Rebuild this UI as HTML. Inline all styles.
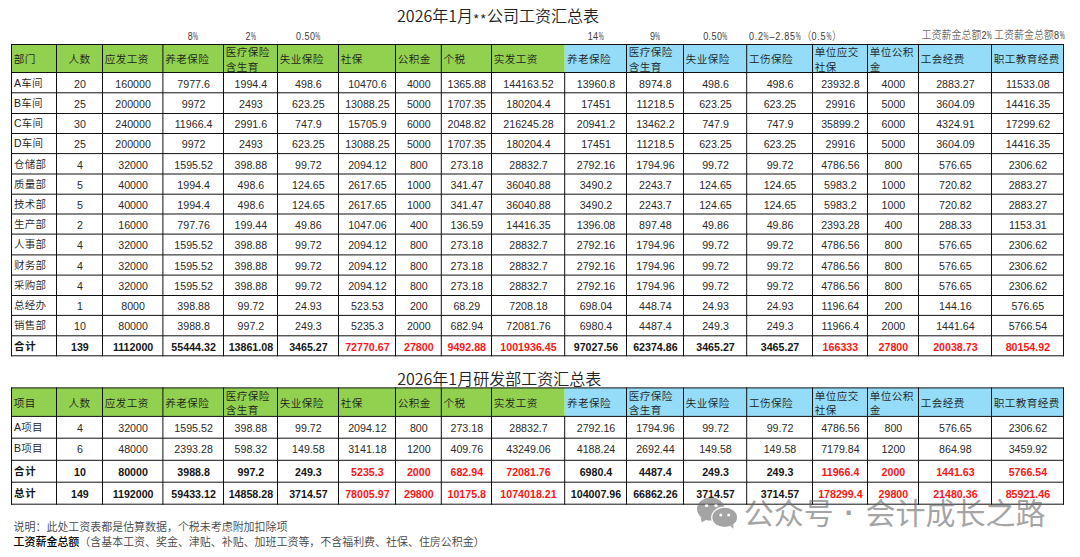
<!DOCTYPE html>
<html lang="zh-CN"><head><meta charset="utf-8"><title>工资汇总表</title>
<style>
html,body{margin:0;padding:0;background:#fff}
body{width:1080px;height:557px;position:relative;overflow:hidden;font-family:"Liberation Sans","Noto Sans CJK SC",sans-serif;color:#222}
div{position:absolute;box-sizing:border-box;white-space:nowrap}
#grid{position:absolute;left:0;top:0}
.h{font-size:10.6px;letter-spacing:.4px;line-height:14.5px;padding-left:1.8px;color:#1c1c1c;font-weight:350}
.h.c{text-align:center;padding-left:0}
.d{font-size:10.67px;text-align:center;color:#2a2a2a;height:20px;line-height:20px}
.d.n{text-align:left;padding-left:1.5px;font-size:10.5px;letter-spacing:.25px;font-weight:350;color:#1c1c1c}
.d.b{font-weight:bold;color:#161616}
.d.n.b{letter-spacing:.8px}
.d.r{color:#ff1414}
.t{font-family:"Noto Sans CJK SC","Liberation Sans",sans-serif;font-size:16px;left:0;width:996px;text-align:center;color:#222;line-height:20px;font-weight:350}
.t u{text-decoration:none;position:relative;top:2.5px;font-size:14px;letter-spacing:.5px}
.p{top:30px;font-size:10px;letter-spacing:.5px;line-height:14px;text-align:center;color:#3a3a3a;transform:scaleX(.9)}
.p b{font-weight:300;color:#333;font-size:11.1px;letter-spacing:0}
.p i{font-style:normal;display:inline-block;transform:scaleX(.62);transform-origin:0 50%;margin-right:-3.2px}
.note{left:13.6px;font-size:10.96px;line-height:14px;color:#444;font-weight:350}
.wm{color:rgba(105,105,105,.6);font-size:30px;line-height:34px;top:496.5px}
</style></head><body>
<svg id="grid" width="1080" height="557" viewBox="0 0 1080 557">
<rect x="11.5" y="44.5" width="553.2" height="28" fill="#92d050"/>
<rect x="564.7" y="44.5" width="498.8" height="28" fill="#94dcf8"/>
<path d="M11 44.5H1064M11 72.5H1064M11 92.8H1064M11 113.5H1064M11 133.5H1064M11 153.6H1064M11 174H1064M11 194.2H1064M11 214H1064M11 234.1H1064M11 254.9H1064M11 275.1H1064M11 295.5H1064M11 315.4H1064M11 335.8H1064M11 355.8H1064M11.5 44V356.3M56.5 44V356.3M102.5 44V356.3M162.9 44V356.3M223.5 44V356.3M277.5 44V356.3M338.5 44V356.3M395.5 44V356.3M441.3 44V356.3M491.5 44V356.3M564.7 72V356.3M626.5 44V356.3M683.5 44V356.3M746.7 44V356.3M812.5 44V356.3M867.5 44V356.3M918.5 44V356.3M991.5 44V356.3M1063.5 44V356.3" fill="none" stroke="#111" stroke-width="1"/>
<rect x="11.5" y="387.9" width="553.2" height="28.5" fill="#92d050"/>
<rect x="564.7" y="387.9" width="498.8" height="28.5" fill="#94dcf8"/>
<path d="M11 387.9H1064M11 416.4H1064M11 438.2H1064M11 460.3H1064M11 482.2H1064M11 504.2H1064M11.5 387.4V504.7M56.5 387.4V504.7M102.5 387.4V504.7M162.9 387.4V504.7M223.5 387.4V504.7M277.5 387.4V504.7M338.5 387.4V504.7M395.5 387.4V504.7M441.3 387.4V504.7M491.5 387.4V504.7M564.7 415.9V504.7M626.5 387.4V504.7M683.5 387.4V504.7M746.7 387.4V504.7M812.5 387.4V504.7M867.5 387.4V504.7M918.5 387.4V504.7M991.5 387.4V504.7M1063.5 387.4V504.7" fill="none" stroke="#111" stroke-width="1"/>
</svg>
<div class="t" style="top:5px">2026年1月<u>**</u>公司工资汇总表</div>
<div class="t" style="top:368px;left:1.2px">2026年1月研发部工资汇总表</div>
<div class="p" style="left:163.4px;width:60.6px">8<i>%</i></div>
<div class="p" style="left:224px;width:54px">2<i>%</i></div>
<div class="p" style="left:278px;width:61px">0.50<i>%</i></div>
<div class="p" style="left:565.2px;width:61.8px">14<i>%</i></div>
<div class="p" style="left:627px;width:57px">9<i>%</i></div>
<div class="p" style="left:684px;width:63.2px">0.50<i>%</i></div>
<div class="p" style="left:749px;top:29px;width:135px;text-align:left;transform-origin:0 50%;letter-spacing:.8px">0.2<i>%</i>–2.85<i>%</i><b>（</b>0.5<i>%</i><b>）</b></div>
<div class="p" style="left:900px;top:28px;width:92.5px;text-align:right;transform-origin:100% 50%"><b>工资薪金总额</b>2<i>%</i></div>
<div class="p" style="left:994px;top:28px;width:86px;text-align:left;transform-origin:0 50%"><b>工资薪金总额</b>8<i>%</i></div>
<div class="h" style="left:12px;top:52px;width:44px;line-height:14.6px">部门</div>
<div class="h c" style="left:57px;top:52px;width:45px;line-height:14.6px">人数</div>
<div class="h" style="left:103px;top:52px;width:59.4px;line-height:14.6px">应发工资</div>
<div class="h" style="left:163.4px;top:52px;width:59.6px;line-height:14.6px">养老保险</div>
<div class="h" style="left:224px;top:45px;width:53px;line-height:14.6px">医疗保险<br>含生育</div>
<div class="h" style="left:278px;top:52px;width:60px;line-height:14.6px">失业保险</div>
<div class="h" style="left:339px;top:52px;width:56px;line-height:14.6px">社保</div>
<div class="h" style="left:396px;top:52px;width:44.8px;line-height:14.6px">公积金</div>
<div class="h" style="left:441.8px;top:52px;width:49.2px;line-height:14.6px">个税</div>
<div class="h" style="left:492px;top:52px;width:72.2px;line-height:14.6px">实发工资</div>
<div class="h" style="left:565.2px;top:52px;width:60.8px;line-height:14.6px">养老保险</div>
<div class="h" style="left:627px;top:45px;width:56px;line-height:14.6px">医疗保险<br>含生育</div>
<div class="h" style="left:684px;top:52px;width:62.2px;line-height:14.6px">失业保险</div>
<div class="h" style="left:747.2px;top:52px;width:64.8px;line-height:14.6px">工伤保险</div>
<div class="h" style="left:813px;top:45px;width:54px;line-height:14.6px">单位应交<br>社保</div>
<div class="h" style="left:868px;top:45px;width:50px;line-height:14.6px">单位公积<br>金</div>
<div class="h" style="left:919px;top:52px;width:72px;line-height:14.6px">工会经费</div>
<div class="h" style="left:992px;top:52px;width:71px;line-height:14.6px">职工教育经费</div>
<div class="d n" style="left:12.4px;top:73px;width:44px">A车间</div>
<div class="d" style="left:57.4px;top:74px;width:45px">20</div>
<div class="d" style="left:103.4px;top:74px;width:59.4px">160000</div>
<div class="d" style="left:163.8px;top:74px;width:59.6px">7977.6</div>
<div class="d" style="left:224.4px;top:74px;width:53px">1994.4</div>
<div class="d" style="left:278.4px;top:74px;width:60px">498.6</div>
<div class="d" style="left:339.4px;top:74px;width:56px">10470.6</div>
<div class="d" style="left:396.4px;top:74px;width:44.8px">4000</div>
<div class="d" style="left:442.2px;top:74px;width:49.2px">1365.88</div>
<div class="d" style="left:492.4px;top:74px;width:72.2px">144163.52</div>
<div class="d" style="left:565.6px;top:74px;width:60.8px">13960.8</div>
<div class="d" style="left:627.4px;top:74px;width:56px">8974.8</div>
<div class="d" style="left:684.4px;top:74px;width:62.2px">498.6</div>
<div class="d" style="left:747.6px;top:74px;width:64.8px">498.6</div>
<div class="d" style="left:813.4px;top:74px;width:54px">23932.8</div>
<div class="d" style="left:868.4px;top:74px;width:50px">4000</div>
<div class="d" style="left:919.4px;top:74px;width:72px">2883.27</div>
<div class="d" style="left:992.4px;top:74px;width:71px">11533.08</div>
<div class="d n" style="left:12.4px;top:93px;width:44px">B车间</div>
<div class="d" style="left:57.4px;top:94px;width:45px">25</div>
<div class="d" style="left:103.4px;top:94px;width:59.4px">200000</div>
<div class="d" style="left:163.8px;top:94px;width:59.6px">9972</div>
<div class="d" style="left:224.4px;top:94px;width:53px">2493</div>
<div class="d" style="left:278.4px;top:94px;width:60px">623.25</div>
<div class="d" style="left:339.4px;top:94px;width:56px">13088.25</div>
<div class="d" style="left:396.4px;top:94px;width:44.8px">5000</div>
<div class="d" style="left:442.2px;top:94px;width:49.2px">1707.35</div>
<div class="d" style="left:492.4px;top:94px;width:72.2px">180204.4</div>
<div class="d" style="left:565.6px;top:94px;width:60.8px">17451</div>
<div class="d" style="left:627.4px;top:94px;width:56px">11218.5</div>
<div class="d" style="left:684.4px;top:94px;width:62.2px">623.25</div>
<div class="d" style="left:747.6px;top:94px;width:64.8px">623.25</div>
<div class="d" style="left:813.4px;top:94px;width:54px">29916</div>
<div class="d" style="left:868.4px;top:94px;width:50px">5000</div>
<div class="d" style="left:919.4px;top:94px;width:72px">3604.09</div>
<div class="d" style="left:992.4px;top:94px;width:71px">14416.35</div>
<div class="d n" style="left:12.4px;top:113px;width:44px">C车间</div>
<div class="d" style="left:57.4px;top:114px;width:45px">30</div>
<div class="d" style="left:103.4px;top:114px;width:59.4px">240000</div>
<div class="d" style="left:163.8px;top:114px;width:59.6px">11966.4</div>
<div class="d" style="left:224.4px;top:114px;width:53px">2991.6</div>
<div class="d" style="left:278.4px;top:114px;width:60px">747.9</div>
<div class="d" style="left:339.4px;top:114px;width:56px">15705.9</div>
<div class="d" style="left:396.4px;top:114px;width:44.8px">6000</div>
<div class="d" style="left:442.2px;top:114px;width:49.2px">2048.82</div>
<div class="d" style="left:492.4px;top:114px;width:72.2px">216245.28</div>
<div class="d" style="left:565.6px;top:114px;width:60.8px">20941.2</div>
<div class="d" style="left:627.4px;top:114px;width:56px">13462.2</div>
<div class="d" style="left:684.4px;top:114px;width:62.2px">747.9</div>
<div class="d" style="left:747.6px;top:114px;width:64.8px">747.9</div>
<div class="d" style="left:813.4px;top:114px;width:54px">35899.2</div>
<div class="d" style="left:868.4px;top:114px;width:50px">6000</div>
<div class="d" style="left:919.4px;top:114px;width:72px">4324.91</div>
<div class="d" style="left:992.4px;top:114px;width:71px">17299.62</div>
<div class="d n" style="left:12.4px;top:133px;width:44px">D车间</div>
<div class="d" style="left:57.4px;top:134px;width:45px">25</div>
<div class="d" style="left:103.4px;top:134px;width:59.4px">200000</div>
<div class="d" style="left:163.8px;top:134px;width:59.6px">9972</div>
<div class="d" style="left:224.4px;top:134px;width:53px">2493</div>
<div class="d" style="left:278.4px;top:134px;width:60px">623.25</div>
<div class="d" style="left:339.4px;top:134px;width:56px">13088.25</div>
<div class="d" style="left:396.4px;top:134px;width:44.8px">5000</div>
<div class="d" style="left:442.2px;top:134px;width:49.2px">1707.35</div>
<div class="d" style="left:492.4px;top:134px;width:72.2px">180204.4</div>
<div class="d" style="left:565.6px;top:134px;width:60.8px">17451</div>
<div class="d" style="left:627.4px;top:134px;width:56px">11218.5</div>
<div class="d" style="left:684.4px;top:134px;width:62.2px">623.25</div>
<div class="d" style="left:747.6px;top:134px;width:64.8px">623.25</div>
<div class="d" style="left:813.4px;top:134px;width:54px">29916</div>
<div class="d" style="left:868.4px;top:134px;width:50px">5000</div>
<div class="d" style="left:919.4px;top:134px;width:72px">3604.09</div>
<div class="d" style="left:992.4px;top:134px;width:71px">14416.35</div>
<div class="d n" style="left:12.4px;top:154px;width:44px">仓储部</div>
<div class="d" style="left:57.4px;top:155px;width:45px">4</div>
<div class="d" style="left:103.4px;top:155px;width:59.4px">32000</div>
<div class="d" style="left:163.8px;top:155px;width:59.6px">1595.52</div>
<div class="d" style="left:224.4px;top:155px;width:53px">398.88</div>
<div class="d" style="left:278.4px;top:155px;width:60px">99.72</div>
<div class="d" style="left:339.4px;top:155px;width:56px">2094.12</div>
<div class="d" style="left:396.4px;top:155px;width:44.8px">800</div>
<div class="d" style="left:442.2px;top:155px;width:49.2px">273.18</div>
<div class="d" style="left:492.4px;top:155px;width:72.2px">28832.7</div>
<div class="d" style="left:565.6px;top:155px;width:60.8px">2792.16</div>
<div class="d" style="left:627.4px;top:155px;width:56px">1794.96</div>
<div class="d" style="left:684.4px;top:155px;width:62.2px">99.72</div>
<div class="d" style="left:747.6px;top:155px;width:64.8px">99.72</div>
<div class="d" style="left:813.4px;top:155px;width:54px">4786.56</div>
<div class="d" style="left:868.4px;top:155px;width:50px">800</div>
<div class="d" style="left:919.4px;top:155px;width:72px">576.65</div>
<div class="d" style="left:992.4px;top:155px;width:71px">2306.62</div>
<div class="d n" style="left:12.4px;top:174px;width:44px">质量部</div>
<div class="d" style="left:57.4px;top:175px;width:45px">5</div>
<div class="d" style="left:103.4px;top:175px;width:59.4px">40000</div>
<div class="d" style="left:163.8px;top:175px;width:59.6px">1994.4</div>
<div class="d" style="left:224.4px;top:175px;width:53px">498.6</div>
<div class="d" style="left:278.4px;top:175px;width:60px">124.65</div>
<div class="d" style="left:339.4px;top:175px;width:56px">2617.65</div>
<div class="d" style="left:396.4px;top:175px;width:44.8px">1000</div>
<div class="d" style="left:442.2px;top:175px;width:49.2px">341.47</div>
<div class="d" style="left:492.4px;top:175px;width:72.2px">36040.88</div>
<div class="d" style="left:565.6px;top:175px;width:60.8px">3490.2</div>
<div class="d" style="left:627.4px;top:175px;width:56px">2243.7</div>
<div class="d" style="left:684.4px;top:175px;width:62.2px">124.65</div>
<div class="d" style="left:747.6px;top:175px;width:64.8px">124.65</div>
<div class="d" style="left:813.4px;top:175px;width:54px">5983.2</div>
<div class="d" style="left:868.4px;top:175px;width:50px">1000</div>
<div class="d" style="left:919.4px;top:175px;width:72px">720.82</div>
<div class="d" style="left:992.4px;top:175px;width:71px">2883.27</div>
<div class="d n" style="left:12.4px;top:194px;width:44px">技术部</div>
<div class="d" style="left:57.4px;top:195px;width:45px">5</div>
<div class="d" style="left:103.4px;top:195px;width:59.4px">40000</div>
<div class="d" style="left:163.8px;top:195px;width:59.6px">1994.4</div>
<div class="d" style="left:224.4px;top:195px;width:53px">498.6</div>
<div class="d" style="left:278.4px;top:195px;width:60px">124.65</div>
<div class="d" style="left:339.4px;top:195px;width:56px">2617.65</div>
<div class="d" style="left:396.4px;top:195px;width:44.8px">1000</div>
<div class="d" style="left:442.2px;top:195px;width:49.2px">341.47</div>
<div class="d" style="left:492.4px;top:195px;width:72.2px">36040.88</div>
<div class="d" style="left:565.6px;top:195px;width:60.8px">3490.2</div>
<div class="d" style="left:627.4px;top:195px;width:56px">2243.7</div>
<div class="d" style="left:684.4px;top:195px;width:62.2px">124.65</div>
<div class="d" style="left:747.6px;top:195px;width:64.8px">124.65</div>
<div class="d" style="left:813.4px;top:195px;width:54px">5983.2</div>
<div class="d" style="left:868.4px;top:195px;width:50px">1000</div>
<div class="d" style="left:919.4px;top:195px;width:72px">720.82</div>
<div class="d" style="left:992.4px;top:195px;width:71px">2883.27</div>
<div class="d n" style="left:12.4px;top:214px;width:44px">生产部</div>
<div class="d" style="left:57.4px;top:215px;width:45px">2</div>
<div class="d" style="left:103.4px;top:215px;width:59.4px">16000</div>
<div class="d" style="left:163.8px;top:215px;width:59.6px">797.76</div>
<div class="d" style="left:224.4px;top:215px;width:53px">199.44</div>
<div class="d" style="left:278.4px;top:215px;width:60px">49.86</div>
<div class="d" style="left:339.4px;top:215px;width:56px">1047.06</div>
<div class="d" style="left:396.4px;top:215px;width:44.8px">400</div>
<div class="d" style="left:442.2px;top:215px;width:49.2px">136.59</div>
<div class="d" style="left:492.4px;top:215px;width:72.2px">14416.35</div>
<div class="d" style="left:565.6px;top:215px;width:60.8px">1396.08</div>
<div class="d" style="left:627.4px;top:215px;width:56px">897.48</div>
<div class="d" style="left:684.4px;top:215px;width:62.2px">49.86</div>
<div class="d" style="left:747.6px;top:215px;width:64.8px">49.86</div>
<div class="d" style="left:813.4px;top:215px;width:54px">2393.28</div>
<div class="d" style="left:868.4px;top:215px;width:50px">400</div>
<div class="d" style="left:919.4px;top:215px;width:72px">288.33</div>
<div class="d" style="left:992.4px;top:215px;width:71px">1153.31</div>
<div class="d n" style="left:12.4px;top:234px;width:44px">人事部</div>
<div class="d" style="left:57.4px;top:235px;width:45px">4</div>
<div class="d" style="left:103.4px;top:235px;width:59.4px">32000</div>
<div class="d" style="left:163.8px;top:235px;width:59.6px">1595.52</div>
<div class="d" style="left:224.4px;top:235px;width:53px">398.88</div>
<div class="d" style="left:278.4px;top:235px;width:60px">99.72</div>
<div class="d" style="left:339.4px;top:235px;width:56px">2094.12</div>
<div class="d" style="left:396.4px;top:235px;width:44.8px">800</div>
<div class="d" style="left:442.2px;top:235px;width:49.2px">273.18</div>
<div class="d" style="left:492.4px;top:235px;width:72.2px">28832.7</div>
<div class="d" style="left:565.6px;top:235px;width:60.8px">2792.16</div>
<div class="d" style="left:627.4px;top:235px;width:56px">1794.96</div>
<div class="d" style="left:684.4px;top:235px;width:62.2px">99.72</div>
<div class="d" style="left:747.6px;top:235px;width:64.8px">99.72</div>
<div class="d" style="left:813.4px;top:235px;width:54px">4786.56</div>
<div class="d" style="left:868.4px;top:235px;width:50px">800</div>
<div class="d" style="left:919.4px;top:235px;width:72px">576.65</div>
<div class="d" style="left:992.4px;top:235px;width:71px">2306.62</div>
<div class="d n" style="left:12.4px;top:255px;width:44px">财务部</div>
<div class="d" style="left:57.4px;top:256px;width:45px">4</div>
<div class="d" style="left:103.4px;top:256px;width:59.4px">32000</div>
<div class="d" style="left:163.8px;top:256px;width:59.6px">1595.52</div>
<div class="d" style="left:224.4px;top:256px;width:53px">398.88</div>
<div class="d" style="left:278.4px;top:256px;width:60px">99.72</div>
<div class="d" style="left:339.4px;top:256px;width:56px">2094.12</div>
<div class="d" style="left:396.4px;top:256px;width:44.8px">800</div>
<div class="d" style="left:442.2px;top:256px;width:49.2px">273.18</div>
<div class="d" style="left:492.4px;top:256px;width:72.2px">28832.7</div>
<div class="d" style="left:565.6px;top:256px;width:60.8px">2792.16</div>
<div class="d" style="left:627.4px;top:256px;width:56px">1794.96</div>
<div class="d" style="left:684.4px;top:256px;width:62.2px">99.72</div>
<div class="d" style="left:747.6px;top:256px;width:64.8px">99.72</div>
<div class="d" style="left:813.4px;top:256px;width:54px">4786.56</div>
<div class="d" style="left:868.4px;top:256px;width:50px">800</div>
<div class="d" style="left:919.4px;top:256px;width:72px">576.65</div>
<div class="d" style="left:992.4px;top:256px;width:71px">2306.62</div>
<div class="d n" style="left:12.4px;top:275px;width:44px">采购部</div>
<div class="d" style="left:57.4px;top:276px;width:45px">4</div>
<div class="d" style="left:103.4px;top:276px;width:59.4px">32000</div>
<div class="d" style="left:163.8px;top:276px;width:59.6px">1595.52</div>
<div class="d" style="left:224.4px;top:276px;width:53px">398.88</div>
<div class="d" style="left:278.4px;top:276px;width:60px">99.72</div>
<div class="d" style="left:339.4px;top:276px;width:56px">2094.12</div>
<div class="d" style="left:396.4px;top:276px;width:44.8px">800</div>
<div class="d" style="left:442.2px;top:276px;width:49.2px">273.18</div>
<div class="d" style="left:492.4px;top:276px;width:72.2px">28832.7</div>
<div class="d" style="left:565.6px;top:276px;width:60.8px">2792.16</div>
<div class="d" style="left:627.4px;top:276px;width:56px">1794.96</div>
<div class="d" style="left:684.4px;top:276px;width:62.2px">99.72</div>
<div class="d" style="left:747.6px;top:276px;width:64.8px">99.72</div>
<div class="d" style="left:813.4px;top:276px;width:54px">4786.56</div>
<div class="d" style="left:868.4px;top:276px;width:50px">800</div>
<div class="d" style="left:919.4px;top:276px;width:72px">576.65</div>
<div class="d" style="left:992.4px;top:276px;width:71px">2306.62</div>
<div class="d n" style="left:12.4px;top:295px;width:44px">总经办</div>
<div class="d" style="left:57.4px;top:296px;width:45px">1</div>
<div class="d" style="left:103.4px;top:296px;width:59.4px">8000</div>
<div class="d" style="left:163.8px;top:296px;width:59.6px">398.88</div>
<div class="d" style="left:224.4px;top:296px;width:53px">99.72</div>
<div class="d" style="left:278.4px;top:296px;width:60px">24.93</div>
<div class="d" style="left:339.4px;top:296px;width:56px">523.53</div>
<div class="d" style="left:396.4px;top:296px;width:44.8px">200</div>
<div class="d" style="left:442.2px;top:296px;width:49.2px">68.29</div>
<div class="d" style="left:492.4px;top:296px;width:72.2px">7208.18</div>
<div class="d" style="left:565.6px;top:296px;width:60.8px">698.04</div>
<div class="d" style="left:627.4px;top:296px;width:56px">448.74</div>
<div class="d" style="left:684.4px;top:296px;width:62.2px">24.93</div>
<div class="d" style="left:747.6px;top:296px;width:64.8px">24.93</div>
<div class="d" style="left:813.4px;top:296px;width:54px">1196.64</div>
<div class="d" style="left:868.4px;top:296px;width:50px">200</div>
<div class="d" style="left:919.4px;top:296px;width:72px">144.16</div>
<div class="d" style="left:992.4px;top:296px;width:71px">576.65</div>
<div class="d n" style="left:12.4px;top:315px;width:44px">销售部</div>
<div class="d" style="left:57.4px;top:316px;width:45px">10</div>
<div class="d" style="left:103.4px;top:316px;width:59.4px">80000</div>
<div class="d" style="left:163.8px;top:316px;width:59.6px">3988.8</div>
<div class="d" style="left:224.4px;top:316px;width:53px">997.2</div>
<div class="d" style="left:278.4px;top:316px;width:60px">249.3</div>
<div class="d" style="left:339.4px;top:316px;width:56px">5235.3</div>
<div class="d" style="left:396.4px;top:316px;width:44.8px">2000</div>
<div class="d" style="left:442.2px;top:316px;width:49.2px">682.94</div>
<div class="d" style="left:492.4px;top:316px;width:72.2px">72081.76</div>
<div class="d" style="left:565.6px;top:316px;width:60.8px">6980.4</div>
<div class="d" style="left:627.4px;top:316px;width:56px">4487.4</div>
<div class="d" style="left:684.4px;top:316px;width:62.2px">249.3</div>
<div class="d" style="left:747.6px;top:316px;width:64.8px">249.3</div>
<div class="d" style="left:813.4px;top:316px;width:54px">11966.4</div>
<div class="d" style="left:868.4px;top:316px;width:50px">2000</div>
<div class="d" style="left:919.4px;top:316px;width:72px">1441.64</div>
<div class="d" style="left:992.4px;top:316px;width:71px">5766.54</div>
<div class="d n b" style="left:12.4px;top:336px;width:44px">合计</div>
<div class="d b" style="left:57.4px;top:337px;width:45px">139</div>
<div class="d b" style="left:103.4px;top:337px;width:59.4px">1112000</div>
<div class="d b" style="left:163.8px;top:337px;width:59.6px">55444.32</div>
<div class="d b" style="left:224.4px;top:337px;width:53px">13861.08</div>
<div class="d b" style="left:278.4px;top:337px;width:60px">3465.27</div>
<div class="d b r" style="left:339.4px;top:337px;width:56px">72770.67</div>
<div class="d b r" style="left:396.4px;top:337px;width:44.8px">27800</div>
<div class="d b r" style="left:442.2px;top:337px;width:49.2px">9492.88</div>
<div class="d b r" style="left:492.4px;top:337px;width:72.2px">1001936.45</div>
<div class="d b" style="left:565.6px;top:337px;width:60.8px">97027.56</div>
<div class="d b" style="left:627.4px;top:337px;width:56px">62374.86</div>
<div class="d b" style="left:684.4px;top:337px;width:62.2px">3465.27</div>
<div class="d b" style="left:747.6px;top:337px;width:64.8px">3465.27</div>
<div class="d b r" style="left:813.4px;top:337px;width:54px">166333</div>
<div class="d b r" style="left:868.4px;top:337px;width:50px">27800</div>
<div class="d b r" style="left:919.4px;top:337px;width:72px">20038.73</div>
<div class="d b r" style="left:992.4px;top:337px;width:71px">80154.92</div>
<div class="h" style="left:12px;top:396px;width:44px;line-height:14.3px">项目</div>
<div class="h c" style="left:57px;top:396px;width:45px;line-height:14.3px">人数</div>
<div class="h" style="left:103px;top:396px;width:59.4px;line-height:14.3px">应发工资</div>
<div class="h" style="left:163.4px;top:396px;width:59.6px;line-height:14.3px">养老保险</div>
<div class="h" style="left:224px;top:389px;width:53px;line-height:14.3px">医疗保险<br>含生育</div>
<div class="h" style="left:278px;top:396px;width:60px;line-height:14.3px">失业保险</div>
<div class="h" style="left:339px;top:396px;width:56px;line-height:14.3px">社保</div>
<div class="h" style="left:396px;top:396px;width:44.8px;line-height:14.3px">公积金</div>
<div class="h" style="left:441.8px;top:396px;width:49.2px;line-height:14.3px">个税</div>
<div class="h" style="left:492px;top:396px;width:72.2px;line-height:14.3px">实发工资</div>
<div class="h" style="left:565.2px;top:396px;width:60.8px;line-height:14.3px">养老保险</div>
<div class="h" style="left:627px;top:389px;width:56px;line-height:14.3px">医疗保险<br>含生育</div>
<div class="h" style="left:684px;top:396px;width:62.2px;line-height:14.3px">失业保险</div>
<div class="h" style="left:747.2px;top:396px;width:64.8px;line-height:14.3px">工伤保险</div>
<div class="h" style="left:813px;top:389px;width:54px;line-height:14.3px">单位应交<br>社保</div>
<div class="h" style="left:868px;top:389px;width:50px;line-height:14.3px">单位公积<br>金</div>
<div class="h" style="left:919px;top:396px;width:72px;line-height:14.3px">工会经费</div>
<div class="h" style="left:992px;top:396px;width:71px;line-height:14.3px">职工教育经费</div>
<div class="d n" style="left:12.4px;top:417px;width:44px">A项目</div>
<div class="d" style="left:57.4px;top:418px;width:45px">4</div>
<div class="d" style="left:103.4px;top:418px;width:59.4px">32000</div>
<div class="d" style="left:163.8px;top:418px;width:59.6px">1595.52</div>
<div class="d" style="left:224.4px;top:418px;width:53px">398.88</div>
<div class="d" style="left:278.4px;top:418px;width:60px">99.72</div>
<div class="d" style="left:339.4px;top:418px;width:56px">2094.12</div>
<div class="d" style="left:396.4px;top:418px;width:44.8px">800</div>
<div class="d" style="left:442.2px;top:418px;width:49.2px">273.18</div>
<div class="d" style="left:492.4px;top:418px;width:72.2px">28832.7</div>
<div class="d" style="left:565.6px;top:418px;width:60.8px">2792.16</div>
<div class="d" style="left:627.4px;top:418px;width:56px">1794.96</div>
<div class="d" style="left:684.4px;top:418px;width:62.2px">99.72</div>
<div class="d" style="left:747.6px;top:418px;width:64.8px">99.72</div>
<div class="d" style="left:813.4px;top:418px;width:54px">4786.56</div>
<div class="d" style="left:868.4px;top:418px;width:50px">800</div>
<div class="d" style="left:919.4px;top:418px;width:72px">576.65</div>
<div class="d" style="left:992.4px;top:418px;width:71px">2306.62</div>
<div class="d n" style="left:12.4px;top:438px;width:44px">B项目</div>
<div class="d" style="left:57.4px;top:439px;width:45px">6</div>
<div class="d" style="left:103.4px;top:439px;width:59.4px">48000</div>
<div class="d" style="left:163.8px;top:439px;width:59.6px">2393.28</div>
<div class="d" style="left:224.4px;top:439px;width:53px">598.32</div>
<div class="d" style="left:278.4px;top:439px;width:60px">149.58</div>
<div class="d" style="left:339.4px;top:439px;width:56px">3141.18</div>
<div class="d" style="left:396.4px;top:439px;width:44.8px">1200</div>
<div class="d" style="left:442.2px;top:439px;width:49.2px">409.76</div>
<div class="d" style="left:492.4px;top:439px;width:72.2px">43249.06</div>
<div class="d" style="left:565.6px;top:439px;width:60.8px">4188.24</div>
<div class="d" style="left:627.4px;top:439px;width:56px">2692.44</div>
<div class="d" style="left:684.4px;top:439px;width:62.2px">149.58</div>
<div class="d" style="left:747.6px;top:439px;width:64.8px">149.58</div>
<div class="d" style="left:813.4px;top:439px;width:54px">7179.84</div>
<div class="d" style="left:868.4px;top:439px;width:50px">1200</div>
<div class="d" style="left:919.4px;top:439px;width:72px">864.98</div>
<div class="d" style="left:992.4px;top:439px;width:71px">3459.92</div>
<div class="d n b" style="left:12.4px;top:461px;width:44px">合计</div>
<div class="d b" style="left:57.4px;top:462px;width:45px">10</div>
<div class="d b" style="left:103.4px;top:462px;width:59.4px">80000</div>
<div class="d b" style="left:163.8px;top:462px;width:59.6px">3988.8</div>
<div class="d b" style="left:224.4px;top:462px;width:53px">997.2</div>
<div class="d b" style="left:278.4px;top:462px;width:60px">249.3</div>
<div class="d b r" style="left:339.4px;top:462px;width:56px">5235.3</div>
<div class="d b r" style="left:396.4px;top:462px;width:44.8px">2000</div>
<div class="d b r" style="left:442.2px;top:462px;width:49.2px">682.94</div>
<div class="d b r" style="left:492.4px;top:462px;width:72.2px">72081.76</div>
<div class="d b" style="left:565.6px;top:462px;width:60.8px">6980.4</div>
<div class="d b" style="left:627.4px;top:462px;width:56px">4487.4</div>
<div class="d b" style="left:684.4px;top:462px;width:62.2px">249.3</div>
<div class="d b" style="left:747.6px;top:462px;width:64.8px">249.3</div>
<div class="d b r" style="left:813.4px;top:462px;width:54px">11966.4</div>
<div class="d b r" style="left:868.4px;top:462px;width:50px">2000</div>
<div class="d b r" style="left:919.4px;top:462px;width:72px">1441.63</div>
<div class="d b r" style="left:992.4px;top:462px;width:71px">5766.54</div>
<div class="d n b" style="left:12.4px;top:483px;width:44px">总计</div>
<div class="d b" style="left:57.4px;top:484px;width:45px">149</div>
<div class="d b" style="left:103.4px;top:484px;width:59.4px">1192000</div>
<div class="d b" style="left:163.8px;top:484px;width:59.6px">59433.12</div>
<div class="d b" style="left:224.4px;top:484px;width:53px">14858.28</div>
<div class="d b" style="left:278.4px;top:484px;width:60px">3714.57</div>
<div class="d b r" style="left:339.4px;top:484px;width:56px">78005.97</div>
<div class="d b r" style="left:396.4px;top:484px;width:44.8px">29800</div>
<div class="d b r" style="left:442.2px;top:484px;width:49.2px">10175.8</div>
<div class="d b r" style="left:492.4px;top:484px;width:72.2px">1074018.21</div>
<div class="d b" style="left:565.6px;top:484px;width:60.8px">104007.96</div>
<div class="d b" style="left:627.4px;top:484px;width:56px">66862.26</div>
<div class="d b" style="left:684.4px;top:484px;width:62.2px">3714.57</div>
<div class="d b" style="left:747.6px;top:484px;width:64.8px">3714.57</div>
<div class="d b r" style="left:813.4px;top:484px;width:54px">178299.4</div>
<div class="d b r" style="left:868.4px;top:484px;width:50px">29800</div>
<div class="d b r" style="left:919.4px;top:484px;width:72px">21480.36</div>
<div class="d b r" style="left:992.4px;top:484px;width:71px">85921.46</div>
<div class="note" style="top:520px">说明：此处工资表都是估算数据，个税未考虑附加扣除项</div>
<div class="note" style="top:535px"><b style="color:#000;font-weight:500">工资薪金总额</b>（含基本工资、奖金、津贴、补贴、加班工资等，不含福利费、社保、住房公积金）</div>
<svg style="position:absolute;left:694px;top:494px" width="48" height="38" viewBox="694 494 48 38"><g opacity=".6"><ellipse cx="710.7" cy="509" rx="13.7" ry="11.5" fill="#696969"/><path d="M700.6 517.6L701.7 522.3 707 519.6z" fill="#696969"/><ellipse cx="724.7" cy="517.4" rx="13.6" ry="10.9" fill="#fff"/><ellipse cx="724.7" cy="517.4" rx="12.3" ry="9.6" fill="#696969"/><path d="M730.3 526L733.3 528.8 733.4 524.2z" fill="#696969"/><circle cx="706.6" cy="505.4" r="1.75" fill="#fff"/><circle cx="716" cy="505.4" r="1.75" fill="#fff"/><circle cx="720.8" cy="515.1" r="1.5" fill="#fff"/><circle cx="728.7" cy="515.1" r="1.5" fill="#fff"/></g></svg>
<div class="wm" style="left:743.8px">公众号</div><div class="wm" style="left:839.5px;width:20px;text-align:center;font-weight:900;top:495.5px">·</div><div class="wm" style="left:865.6px">会计成长之路</div>
</body></html>
